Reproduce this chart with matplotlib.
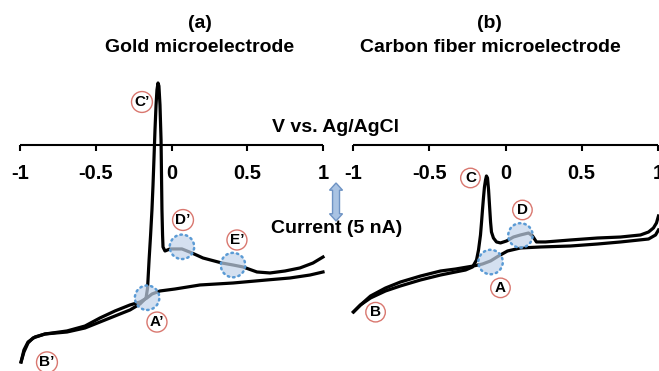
import numpy as np
import matplotlib.pyplot as plt
from matplotlib.patches import Polygon

plt.rcParams['font.family'] = ['Liberation Sans', 'DejaVu Sans']
plt.rcParams['font.weight'] = 'bold'
plt.rcParams['axes.unicode_minus'] = False

# Potencial (V vs. Ag/AgCl) y corriente (nA)
# (a) microelectrodo de oro: barrido de ida (-1 -> 1 V)
oro_ida_v = [-0.993, -0.974, -0.947, -0.914, -0.835, -0.690, -0.571, -0.472, -0.373,
             -0.274, -0.208, -0.168, -0.158, -0.148, -0.138, -0.129, -0.122, -0.116,
             -0.109, -0.102, -0.096, -0.089, -0.083, -0.076, -0.069, -0.066, -0.063,
             -0.059, -0.056, -0.043, -0.010, 0.069, 0.135, 0.208, 0.333, 0.406, 0.472,
             0.564, 0.650, 0.749, 0.848, 0.934, 1.000]
oro_ida_i = [-28.55, -27.24, -26.05, -25.39, -24.87, -24.61, -24.08, -23.29, -22.50,
             -21.71, -20.92, -20.13, -18.82, -15.13, -11.84, -8.55, -5.26, -1.97,
             1.97, 5.26, 7.24, 8.16, 7.76, 5.26, 0.66, -3.95, -8.55,
             -11.84, -13.42, -13.95, -13.68, -13.68, -14.21, -14.87, -15.53, -15.79, -16.05,
             -16.71, -16.84, -16.58, -16.18, -15.53, -14.74]
# barrido de vuelta (1 -> -1 V)
oro_vuelta_v = [1.000, 0.914, 0.782, 0.630, 0.406, 0.188, 0.023, -0.076, -0.129, -0.162,
                -0.208, -0.274, -0.373, -0.472, -0.571, -0.690, -0.835, -0.901, -0.947,
                -0.974, -0.993]
oro_vuelta_i = [-16.71, -17.11, -17.50, -17.76, -18.16, -18.42, -18.95, -19.21, -19.61, -20.13,
                -20.66, -21.05, -21.84, -22.76, -23.82, -24.47, -24.87, -25.26, -25.92,
                -26.97, -28.55]

# (b) microelectrodo de fibra de carbono
carbono_ida_v = [-0.997, -0.951, -0.885, -0.787, -0.689, -0.557, -0.426, -0.328, -0.262,
                 -0.216, -0.190, -0.177, -0.164, -0.157, -0.151, -0.144, -0.138, -0.131,
                 -0.125, -0.118, -0.111, -0.105, -0.098, -0.092, -0.079, -0.059, -0.033,
                 0.007, 0.052, 0.098, 0.151, 0.177, 0.203, 0.262, 0.426, 0.603, 0.754,
                 0.885, 0.938, 0.970, 0.990, 1.003]
carbono_ida_i = [-21.97, -21.05, -20.13, -19.21, -18.55, -17.76, -17.11, -16.71, -16.45,
                 -16.05, -15.13, -13.82, -11.84, -10.13, -8.55, -6.84, -5.53, -4.61,
                 -4.08, -4.34, -5.92, -7.89, -10.13, -11.45, -12.24, -12.76, -12.89,
                 -12.63, -12.11, -11.84, -11.58, -11.97, -12.76, -12.76, -12.50, -12.24, -12.11,
                 -11.84, -11.45, -10.92, -10.26, -9.34]
carbono_vuelta_v = [1.003, 0.984, 0.938, 0.754, 0.603, 0.426, 0.230, 0.098, 0.013, -0.046,
                    -0.098, -0.151, -0.210, -0.328, -0.426, -0.557, -0.689, -0.787, -0.885,
                    -0.951, -0.997]
carbono_vuelta_i = [-11.18, -11.84, -12.37, -12.76, -13.03, -13.29, -13.42, -13.55, -13.95, -14.61,
                    -15.26, -15.66, -15.92, -16.32, -16.58, -17.24, -18.03, -18.82, -19.87,
                    -21.05, -21.97]

ticks = [-1, -0.5, 0, 0.5, 1]
tick_labels = ['-1', '-0.5', '0', '0.5', '1']

# zonas resaltadas (círculos azules)
zonas_oro_v = [-0.161, 0.069, 0.406]
zonas_oro_i = [-20.1, -13.4, -15.8]
zonas_carbono_v = [-0.098, 0.098]
zonas_carbono_i = [-15.4, -11.9]

# etiquetas de los picos
etiquetas_oro = ["C\u2019", "D\u2019", "E\u2019", "A\u2019", "B\u2019"]
etiquetas_oro_v = [-0.195, 0.076, 0.432, -0.096, -0.822]
etiquetas_oro_i = [5.66, -9.87, -12.5, -23.3, -28.6]
etiquetas_carbono = ["C", "D", "A", "B"]
etiquetas_carbono_v = [-0.230, 0.111, -0.033, -0.852]
etiquetas_carbono_i = [-4.34, -8.55, -18.8, -22.0]

W, H = 659, 371
y_lim = (-29.74, 19.08)

fig = plt.figure(figsize=(W / 100, H / 100), dpi=100)
ax_a = fig.add_axes([20 / W, 0, 303 / W, 1])
ax_b = fig.add_axes([353 / W, 0, 305 / W, 1])


def preparar_eje(ax):
    ax.set_xlim(-1, 1)
    ax.set_ylim(*y_lim)
    ax.patch.set_alpha(0)
    for s in ['top', 'left', 'right']:
        ax.spines[s].set_visible(False)
    ax.spines['bottom'].set_position(('data', 0))
    ax.spines['bottom'].set_linewidth(1.5)
    ax.spines['bottom'].set_capstyle('butt')
    ax.set_yticks([])
    ax.set_xticks(ticks)
    ax.set_xticklabels(tick_labels, fontsize=14.5, fontweight='bold')
    ax.tick_params(axis='x', direction='out', length=4, width=1.5, pad=10)


def resaltar(ax, v, i):
    ax.scatter(v, i, s=310, facecolor='#c3d4ea', alpha=0.7, edgecolor='none', zorder=4, clip_on=False)
    sc = ax.scatter(v, i, s=310, facecolor='none', edgecolor='#5b9bd5', linewidths=1.8,
                    linestyle=(0, (0.6, 1.6)), zorder=5, clip_on=False)
    sc.set_capstyle('round')


def etiquetar(ax, textos, v, i):
    for t, x, y in zip(textos, v, i):
        ax.text(x, y, t, ha='center', va='center', fontsize=11, fontweight='bold', zorder=6,
                bbox=dict(boxstyle='circle,pad=0.18', fc='white', ec='#d9776f', lw=1))


for ax in (ax_a, ax_b):
    preparar_eje(ax)

ax_a.plot(oro_ida_v, oro_ida_i, color='black', lw=2.3, clip_on=False, zorder=3)
ax_a.plot(oro_vuelta_v, oro_vuelta_i, color='black', lw=2.3, clip_on=False, zorder=3)
ax_b.plot(carbono_ida_v, carbono_ida_i, color='black', lw=2.3, clip_on=False, zorder=3)
ax_b.plot(carbono_vuelta_v, carbono_vuelta_i, color='black', lw=2.3, clip_on=False, zorder=3)

resaltar(ax_a, zonas_oro_v, zonas_oro_i)
resaltar(ax_b, zonas_carbono_v, zonas_carbono_i)
etiquetar(ax_a, etiquetas_oro, etiquetas_oro_v, etiquetas_oro_i)
etiquetar(ax_b, etiquetas_carbono, etiquetas_carbono_v, etiquetas_carbono_i)

# flecha de escala: 5 nA
xc, y0, y1 = 1.086, -10.0, -5.0
hw, sw, hl = 0.043, 0.023, 0.95
flecha = [(xc - sw, y0 + hl), (xc - hw, y0 + hl), (xc, y0), (xc + hw, y0 + hl), (xc + sw, y0 + hl),
          (xc + sw, y1 - hl), (xc + hw, y1 - hl), (xc, y1), (xc - hw, y1 - hl), (xc - sw, y1 - hl)]
ax_a.add_patch(Polygon(flecha, closed=True, fc='#a9c3e3', ec='#6e93c4', lw=1, clip_on=False, zorder=5))

fig.text(200 / W, 1 - 23 / H, '(a)', ha='center', va='center', fontsize=14, fontweight='bold')
fig.text(200 / W, 1 - 48 / H, 'Gold microelectrode', ha='center', va='center', fontsize=14, fontweight='bold')
fig.text(489 / W, 1 - 23 / H, '(b)', ha='center', va='center', fontsize=14, fontweight='bold')
fig.text(490 / W, 1 - 48 / H, 'Carbon fiber microelectrode', ha='center', va='center', fontsize=14, fontweight='bold')
fig.text(335 / W, 1 - 128 / H, 'V vs. Ag/AgCl', ha='center', va='center', fontsize=14, fontweight='bold')
fig.text(337 / W, 1 - 228 / H, 'Current (5 nA)', ha='center', va='center', fontsize=14, fontweight='bold')

fig.savefig('out.png', dpi=100)
